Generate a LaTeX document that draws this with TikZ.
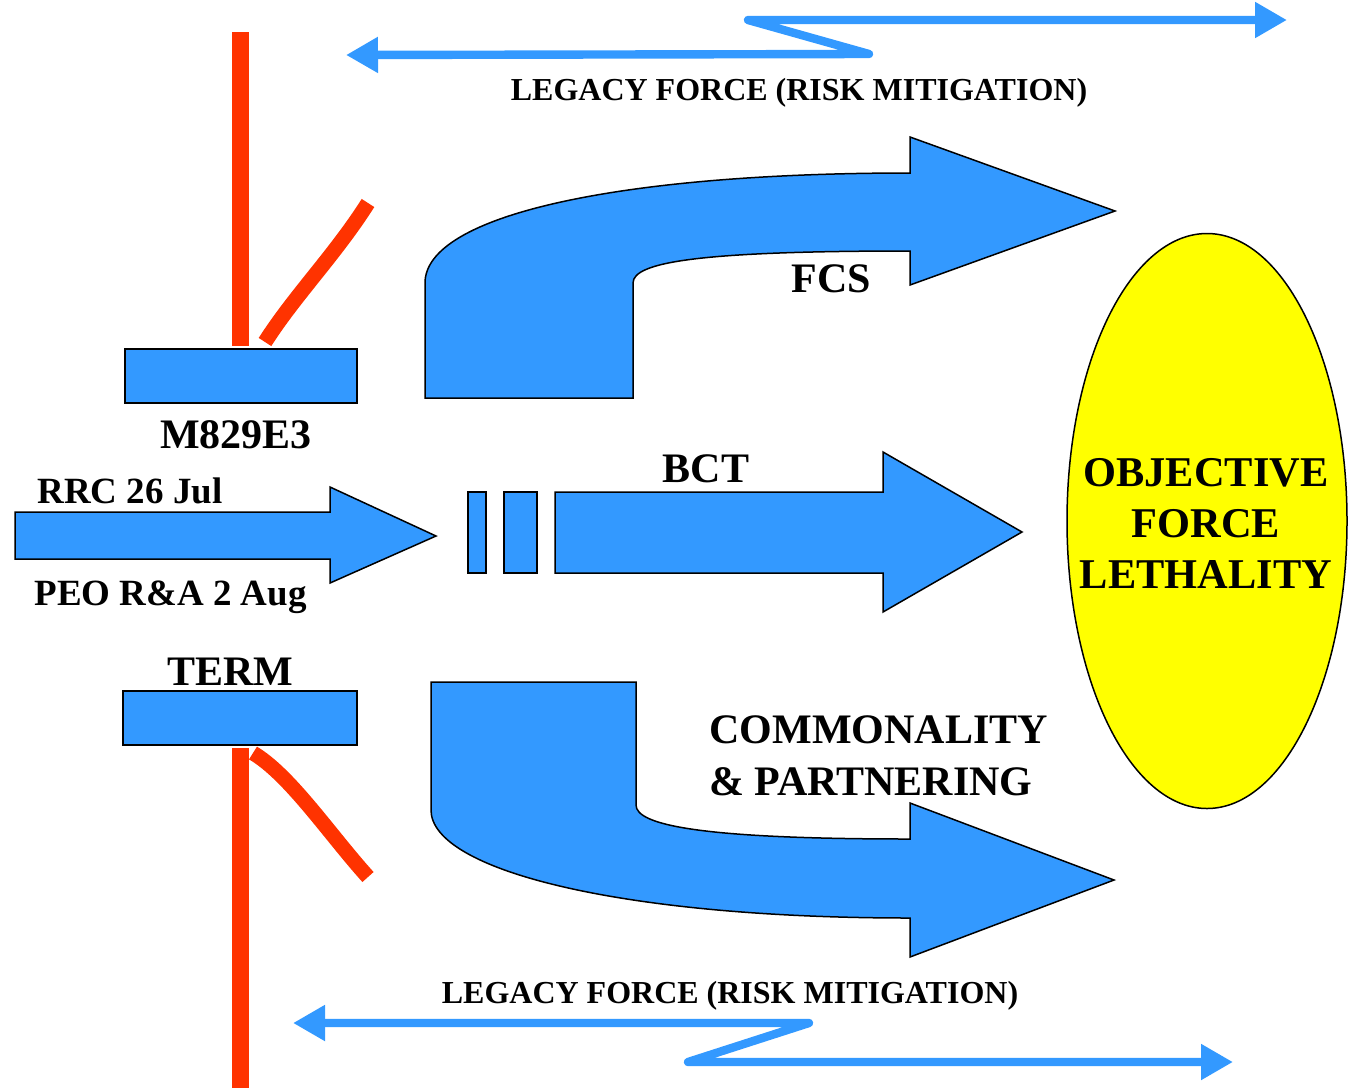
\documentclass[tikz,border=0pt]{standalone}
\usepackage{fontspec}
\setmainfont{Liberation Serif}
\usetikzlibrary{arrows.meta,shapes.geometric}
\definecolor{myblue}{HTML}{3399FF}
\definecolor{myred}{HTML}{FF3300}
\definecolor{myyellow}{HTML}{FFFF00}
\begin{document}
\begin{tikzpicture}[x=0.5pt,y=-0.5pt,
  blk/.style={fill=myblue, draw=black, line width=0.75pt},
  boxn/.style={rectangle, fill=myblue, draw=black, line width=0.75pt, inner sep=0pt},
  legacy/.style={draw=myblue, line width=4.2pt, line join=round, line cap=round,
     {Triangle[length=16pt,width=17pt]}-{Triangle[length=16pt,width=17pt]}},
  redv/.style={draw=myred, line width=8.5pt},
  redc/.style={draw=myred, line width=7.5pt},
  lblA/.style={inner sep=0pt, font=\fontsize{21pt}{25pt}\selectfont\bfseries},
  lblB/.style={inner sep=0pt, font=\fontsize{18.5pt}{22pt}\selectfont\bfseries},
  lblC/.style={inner sep=0pt, font=\fontsize{16pt}{19pt}\selectfont\bfseries},
  lblD/.style={inner sep=0pt, font=\fontsize{21.2pt}{25pt}\selectfont\bfseries}]
\useasboundingbox (0,0) rectangle (1353,1087);

% top legacy arrow
\coordinate (tl) at (346,55);
\coordinate (tz1) at (869,54);
\coordinate (tz2) at (748,20);
\coordinate (tr) at (1287,20);
\draw[legacy] (tl) -- (tz1) -- (tz2) -- (tr);
\node[lblC, anchor=base] (toplbl) at (799,100) {LEGACY FORCE (RISK MITIGATION)};

% bottom legacy arrow
\coordinate (bl) at (293,1023);
\coordinate (bz1) at (809,1023);
\coordinate (bz2) at (688,1062);
\coordinate (br) at (1233,1062);
\draw[legacy] (bl) -- (bz1) -- (bz2) -- (br);
\node[lblC, anchor=base] (botlbl) at (730,1003) {LEGACY FORCE (RISK MITIGATION)};

% red lines
\coordinate (rt1) at (240,32);
\coordinate (rt2) at (240,346);
\draw[redv] (rt1) -- (rt2);
\coordinate (rc1) at (265,342);
\coordinate (rc2) at (368,203);
\draw[redc] (rc1) .. controls (295,295) and (335,255) .. (rc2);
\coordinate (rb1) at (240,748);
\coordinate (rb2) at (240,1095);
\draw[redv] (rb1) -- (rb2);
\coordinate (rd1) at (253,753);
\coordinate (rd2) at (368,877);
\draw[redc] (rd1) .. controls (290,775) and (330,835) .. (rd2);

% boxes
\node[boxn, minimum width=116pt, minimum height=27pt] (m829) at (241,376) {};
\node[lblA, anchor=base] (m829lbl) at (236,448) {M829E3};
\node[boxn, minimum width=117pt, minimum height=27pt] (term) at (240,718) {};
\node[lblA, anchor=base] (termlbl) at (230,685) {TERM};

% input arrow
\draw[blk] (15,512) -- (330,512) -- (330,487) -- (436,536) -- (330,583) -- (330,559) -- (15,559) -- cycle;
\node[lblB, anchor=base west] (rrc) at (37,503) {RRC 26 Jul};
\node[lblB, anchor=base west] (peo) at (34,605) {PEO R\&A 2 Aug};

% small bars
\node[boxn, minimum width=9pt, minimum height=40.5pt] (bar1) at (477,532.5) {};
\node[boxn, minimum width=16.5pt, minimum height=40.5pt] (bar2) at (520.5,532.5) {};

% BCT arrow
\draw[blk] (555,492) -- (883,492) -- (883,452) -- (1022,532) -- (883,612) -- (883,573) -- (555,573) -- cycle;
\node[lblA, anchor=base] (bct) at (706,482) {BCT};

% FCS arrow
\draw[blk] (425,398) -- (425,283) .. controls (425,215) and (620,173) .. (910,173)
  -- (910,137) -- (1115,211) -- (910,285) -- (910,251)
  .. controls (700,251) and (633,262) .. (633,283) -- (633,398) -- cycle;
\node[lblA, anchor=base] (fcs) at (831,292) {FCS};

% Commonality arrow
\draw[blk] (431,682) -- (636,682) -- (636,805) .. controls (636,825) and (700,839) .. (910,839)
  -- (910,803) -- (1114,880) -- (910,957) -- (910,918)
  .. controls (620,918) and (431,870) .. (431,810) -- cycle;
\node[lblA, anchor=base west] (comm1) at (709,743) {COMMONALITY};
\node[lblA, anchor=base west] (comm2) at (709,795) {\& PARTNERING};

% objective ellipse
\node[ellipse, draw=black, line width=0.75pt, fill=myyellow, inner sep=0pt,
  minimum width=140pt, minimum height=287.5pt] (obj) at (1207,521) {};
\node[lblD, anchor=base] (obj1) at (1206,486) {OBJECTIVE};
\node[lblD, anchor=base] (obj2) at (1206,537) {FORCE};
\node[lblD, anchor=base] (obj3) at (1206,588) {LETHALITY};
\end{tikzpicture}
\end{document}
